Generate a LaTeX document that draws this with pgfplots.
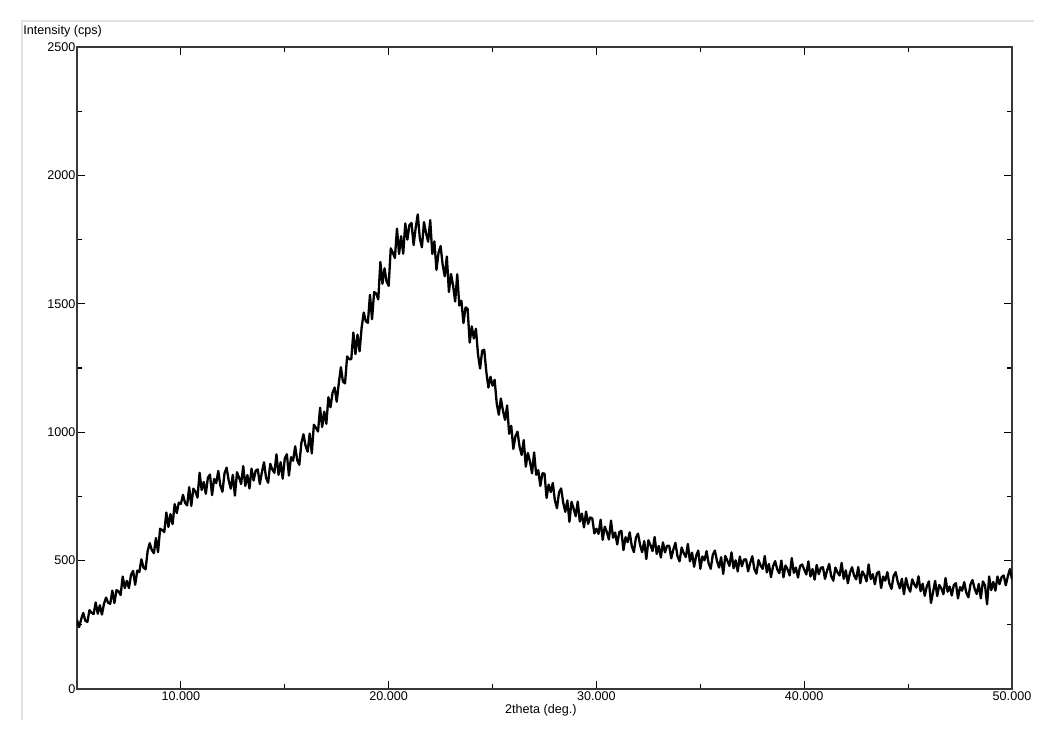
\documentclass[border=0pt]{standalone}
\usepackage{fontspec}
\setmainfont{Liberation Sans}
\usepackage{pgfplots}
\usepackage{pgfplotstable}
\pgfplotsset{compat=1.18}
\definecolor{axisgray}{RGB}{55,55,60}
\definecolor{framegray}{RGB}{225,225,225}
\pgfplotstableread{
x y
5.0 269
5.1 241
5.2 271
5.3 296
5.4 266
5.5 261
5.6 307
5.7 297
5.8 292
5.9 337
6.0 293
6.1 326
6.2 290
6.3 332
6.4 356
6.5 336
6.6 332
6.7 383
6.8 335
6.9 385
7.0 380
7.1 366
7.2 438
7.3 393
7.4 421
7.5 393
7.6 444
7.7 460
7.8 406
7.9 461
8.0 455
8.1 505
8.2 473
8.3 466
8.4 537
8.5 568
8.6 541
8.7 529
8.8 588
8.9 533
9.0 624
9.1 619
9.2 611
9.3 687
9.4 631
9.5 681
9.6 642
9.7 720
9.8 685
9.9 726
10.0 721
10.1 756
10.2 725
10.3 715
10.4 786
10.5 713
10.6 780
10.7 769
10.8 745
10.9 842
11.0 775
11.1 806
11.2 760
11.3 823
11.4 835
11.5 755
11.6 818
11.7 802
11.8 849
11.9 792
12.0 768
12.1 840
12.2 862
12.3 812
12.4 780
12.5 834
12.6 753
12.7 844
12.8 823
12.9 798
13.0 868
13.1 791
13.2 833
13.3 781
13.4 858
13.5 812
13.6 850
13.7 855
13.8 798
13.9 845
14.0 883
14.1 822
14.2 803
14.3 877
14.4 855
14.5 842
14.6 914
14.7 834
14.8 883
14.9 819
15.0 898
15.1 914
15.2 831
15.3 903
15.4 889
15.5 945
15.6 891
15.7 873
15.8 959
15.9 992
16.0 947
16.1 924
16.2 995
16.3 917
16.4 1029
16.5 1017
16.6 1003
16.7 1095
16.8 1020
16.9 1080
17.0 1033
17.1 1136
17.2 1097
17.3 1154
17.4 1174
17.5 1119
17.6 1191
17.7 1253
17.8 1197
17.9 1190
18.0 1295
18.1 1284
18.2 1284
18.3 1388
18.4 1304
18.5 1380
18.6 1315
18.7 1408
18.8 1466
18.9 1432
19.0 1426
19.1 1535
19.2 1440
19.3 1546
19.4 1540
19.5 1517
19.6 1663
19.7 1578
19.8 1638
19.9 1587
20.0 1570
20.1 1716
20.2 1699
20.3 1678
20.4 1793
20.5 1694
20.6 1763
20.7 1695
20.8 1813
20.9 1750
21.0 1807
21.1 1815
21.2 1729
21.3 1796
21.4 1848
21.5 1755
21.6 1720
21.7 1818
21.8 1775
21.9 1742
22.0 1826
22.1 1694
22.2 1743
22.3 1632
22.4 1699
22.5 1725
22.6 1651
22.7 1607
22.8 1684
22.9 1546
23.0 1616
23.1 1571
23.2 1509
23.3 1615
23.4 1493
23.5 1512
23.6 1425
23.7 1486
23.8 1480
23.9 1349
24.0 1412
24.1 1365
24.2 1403
24.3 1303
24.4 1248
24.5 1317
24.6 1321
24.7 1235
24.8 1174
24.9 1216
25.0 1181
25.1 1204
25.2 1112
25.3 1068
25.4 1131
25.5 1084
25.6 1048
25.7 1104
25.8 994
25.9 1025
26.0 935
26.1 984
26.2 1002
26.3 944
26.4 911
26.5 969
26.6 866
26.7 919
26.8 886
26.9 840
27.0 921
27.1 834
27.2 852
27.3 791
27.4 840
27.5 839
27.6 744
27.7 796
27.8 767
27.9 802
28.0 734
28.1 704
28.2 766
28.3 781
28.4 726
28.5 690
28.6 734
28.7 651
28.8 729
28.9 703
29.0 673
29.1 730
29.2 652
29.3 683
29.4 629
29.5 691
29.6 643
29.7 668
29.8 664
29.9 606
30.0 624
30.1 604
30.2 659
30.3 581
30.4 632
30.5 612
30.6 582
30.7 656
30.8 589
30.9 609
31.0 563
31.1 611
31.2 616
31.3 541
31.4 591
31.5 572
31.6 610
31.7 557
31.8 533
31.9 590
32.0 605
32.1 561
32.2 533
32.3 576
32.4 506
32.5 579
32.6 560
32.7 537
32.8 592
32.9 526
33.0 557
33.1 512
33.2 571
33.3 532
33.4 558
33.5 558
33.6 509
33.7 543
33.8 569
33.9 517
34.0 497
34.1 551
34.2 529
34.3 514
34.4 565
34.5 497
34.6 531
34.7 476
34.8 519
34.9 539
35.0 468
35.1 516
35.2 501
35.3 537
35.4 489
35.5 468
35.6 523
35.7 539
35.8 499
35.9 473
36.0 513
36.1 448
36.2 518
36.3 500
36.4 479
36.5 532
36.6 470
36.7 501
36.8 458
36.9 516
37.0 478
37.1 504
37.2 505
37.3 458
37.4 491
37.5 517
37.6 467
37.7 449
37.8 502
37.9 481
38.0 468
38.1 518
38.2 454
38.3 487
38.4 436
38.5 478
38.6 498
38.7 466
38.8 451
38.9 500
39.0 435
39.1 481
39.2 466
39.3 442
39.4 510
39.5 452
39.6 473
39.7 434
39.8 479
39.9 485
40.0 465
40.1 446
40.2 497
40.3 438
40.4 467
40.5 426
40.6 483
40.7 447
40.8 472
40.9 474
41.0 429
41.1 461
41.2 487
41.3 439
41.4 422
41.5 473
41.6 454
41.7 442
41.8 491
41.9 429
42.0 462
42.1 412
42.2 453
42.3 474
42.4 442
42.5 427
42.6 475
42.7 412
42.8 458
42.9 443
43.0 419
43.1 485
43.2 428
43.3 447
43.4 408
43.5 451
43.6 457
43.7 393
43.8 438
43.9 422
44.0 455
44.1 410
44.2 390
44.3 440
44.4 455
44.5 417
44.6 392
44.7 429
44.8 369
44.9 432
45.0 397
45.1 379
45.2 427
45.3 407
45.4 395
45.5 439
45.6 381
45.7 410
45.8 363
45.9 400
46.0 419
46.1 335
46.2 377
46.3 421
46.4 362
46.5 405
46.6 392
46.7 369
46.8 432
46.9 379
47.0 399
47.1 364
47.2 405
47.3 412
47.4 353
47.5 397
47.6 383
47.7 416
47.8 375
47.9 357
48.0 407
48.1 424
48.2 391
48.3 370
48.4 409
48.5 353
48.6 419
48.7 404
48.8 330
48.9 438
49.0 385
49.1 417
49.2 383
49.3 438
49.4 408
49.5 436
49.6 442
49.7 404
49.8 439
49.9 467
50.0 427
}\xrd
\begin{document}
\begin{tikzpicture}
\useasboundingbox (0,0) rectangle (526.5pt,369.5pt);
\fill[white] (0,0) rectangle (526.5pt,369.5pt);
\draw[framegray, line width=0.6pt] (11pt,9.5pt) -- (11pt,359pt) -- (517pt,359pt);
\begin{axis}[
  at={(38.5pt,25pt)}, anchor=south west,
  scale only axis, width=467.5pt, height=321pt,
  xmin=5, xmax=50, ymin=0, ymax=2500,
  axis line style={axisgray, line width=1pt},
  tick align=inside,
  major tick length=4pt, minor tick length=2.5pt,
  tick style={black, line width=0.6pt},
  xtick={10,20,30,40,50},
  xticklabels={10.000,20.000,30.000,40.000,50.000},
  minor xtick={15,25,35,45},
  ytick={0,500,1000,1500,2000,2500},
  yticklabels={0,500,1000,1500,2000,2500},
  minor ytick={250,750,1250,1750,2250},
  /pgf/number format/assume math mode=true,
  ticklabel style={font=\fontsize{6.3}{7}\selectfont, text=black},
  yticklabel style={inner sep=0.6pt},
  xticklabel style={inner sep=1.2pt},
  xlabel={2theta (deg.)},
  xlabel style={font=\fontsize{6.3}{7}\selectfont, at={(axis description cs:0.496,0)}, anchor=center, yshift=-10.5pt},
  clip=true,
]
\addplot[black, line width=1.15pt, line join=round] table[x=x, y=y] {\xrd};
\end{axis}
\node[anchor=base west, inner sep=0pt, font=\fontsize{6.3}{7}\selectfont] at (11.5pt,352pt) {Intensity (cps)};
\end{tikzpicture}
\end{document}
